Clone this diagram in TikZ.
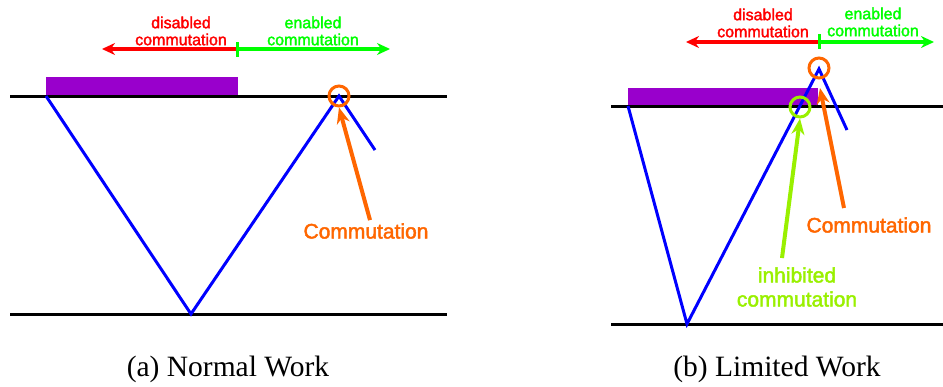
\documentclass[tikz,border=0pt]{standalone}
\usepackage{fontspec}
\setmainfont{Liberation Serif}
\newfontfamily\arialf[FakeBold=2]{Liberation Sans}
\usetikzlibrary{arrows.meta}
\definecolor{cpurple}{RGB}{153,0,204}
\definecolor{corange}{RGB}{255,102,0}
\definecolor{clime}{RGB}{153,240,0}
\definecolor{cred}{RGB}{255,0,0}
\definecolor{cgreen}{RGB}{0,255,0}
\definecolor{cblue}{RGB}{0,0,255}
\tikzset{
  baseline/.style={line width=3pt,black},
  ray/.style={line width=3pt,cblue,line join=miter},
  bar/.style={fill=cpurple,draw=none},
  ring/.style={circle,draw,line width=3pt,minimum size=20pt,inner sep=0pt},
  rangearr/.style={line width=3.5pt,-{Stealth[length=13pt,width=12pt]}},
  pointer/.style={line width=4pt,-{Stealth[length=16pt,width=13pt]}},
  lbl/.style={font=\arialf\fontsize{16}{17}\selectfont,align=center,inner sep=0pt},
  biglbl/.style={font=\arialf\fontsize{21}{24}\selectfont,align=center,inner sep=0pt},
  caption/.style={font=\fontsize{29.5}{32}\selectfont,inner sep=0pt}
}
\begin{document}
\begin{tikzpicture}[x=1pt,y=-1pt]
\useasboundingbox (0,0) rectangle (943,386);
% ---------- (a) Normal Work ----------
\fill[bar] (46,77) rectangle (238,95) node (barA) {};
\draw[baseline] (10,96) -- (447,96);
\draw[baseline] (10,314) -- (447,314);
\coordinate (a1) at (46,96);
\coordinate (a2) at (191,314);
\coordinate (a3) at (339,96);
\coordinate (a4) at (375,150);
\draw[ray] (a1) -- (a2) -- (a3) -- (a4);
\node[ring,draw=corange] (ringA) at (339,96) {};
\node[biglbl,text=corange] (comA) at (366,231) {Commutation};
\draw[pointer,corange] (comA.north) ++(4,-3) coordinate (tA) -- (ringA.south);
% top range arrows
\coordinate (midA) at (237,49);
\coordinate (leftA) at (102,49);
\coordinate (rightA) at (390,49);
\draw[rangearr,cred] (midA) -- (leftA);
\draw[rangearr,cgreen] (midA) -- (rightA);
\draw[cgreen,line width=3pt] (237,42) -- (237,57);
\node[lbl,text=cred] (disA) at (181,31) {disabled\\commutation};
\node[lbl,text=cgreen] (enA) at (313,31) {enabled\\commutation};
\node[caption] (capA) at (228,369) {(a) Normal Work};
% ---------- (b) Limited Work ----------
\fill[bar] (628,88) rectangle (818,106) node (barB) {};
\draw[baseline] (611,106) -- (943,106);
\draw[baseline] (611,324) -- (943,324);
\coordinate (b1) at (628,106);
\coordinate (b2) at (687,324);
\coordinate (b3) at (819,69);
\coordinate (b4) at (847,130);
\draw[ray] (b1) -- (b2) -- (b3) -- (b4);
\node[ring,draw=corange] (ringB) at (819,68) {};
\node[ring,draw=clime] (ringI) at (800,107) {};
\node[biglbl,text=corange] (comB) at (869,225) {Commutation};
\coordinate (tB) at (844,208);
\coordinate (hB) at (820,88);
\draw[pointer,corange] (tB) -- (hB);
\node[biglbl,text=clime] (inh) at (797,287) {inhibited\\commutation};
\coordinate (tI) at (782,258);
\draw[pointer,clime] (tI) -- (ringI.south);
% top range arrows
\coordinate (midB) at (819,42);
\coordinate (leftB) at (686,42);
\coordinate (rightB) at (934,42);
\draw[rangearr,cred] (midB) -- (leftB);
\draw[rangearr,cgreen] (midB) -- (rightB);
\draw[cgreen,line width=3pt] (819,34) -- (819,49);
\node[lbl,text=cred] (disB) at (763,23) {disabled\\commutation};
\node[lbl,text=cgreen] (enB) at (873,22) {enabled\\commutation};
\node[caption] (capB) at (777,369) {(b) Limited Work};
\end{tikzpicture}
\end{document}
